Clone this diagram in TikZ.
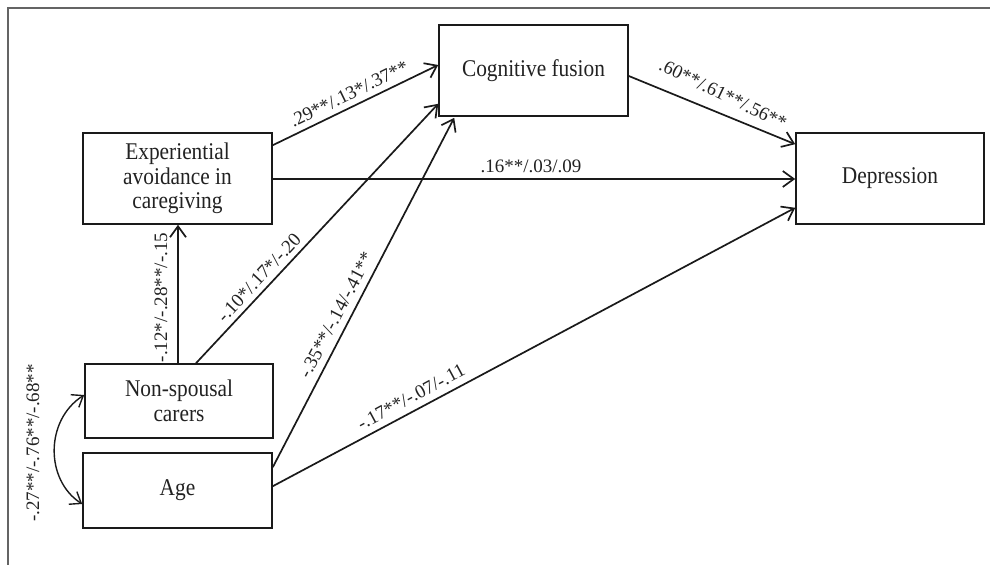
\documentclass[tikz,border=0pt]{standalone}
\usepackage{fontspec}
\setmainfont{Liberation Serif}
\newfontfamily\boxfont{Liberation Serif}[FakeStretch=0.89]
\usetikzlibrary{arrows.meta,calc}
\definecolor{linec}{RGB}{26,26,26}
\definecolor{textc}{RGB}{34,34,34}
\definecolor{framec}{RGB}{100,100,100}
\begin{document}
\begin{tikzpicture}[x=1pt,y=-1pt,
  box/.style={draw=linec, line width=1.6pt, rectangle, inner sep=0pt, align=center, text=textc, font=\boxfont\fontsize{24}{24.5}\selectfont},
  arr/.style={draw=linec, line width=1.7pt, -{Straight Barb[length=11pt,width=16pt,line width=1.7pt]}},
  darr/.style={draw=linec, line width=1.4pt, {Straight Barb[length=10pt,width=15pt,line width=1.4pt]}-{Straight Barb[length=10pt,width=15pt,line width=1.4pt]}},
  lab/.style={text=textc, font=\fontsize{19}{22}\selectfont, inner sep=0pt},
  framel/.style={draw=framec, line width=2pt}]
\useasboundingbox (0,0) rectangle (990,565);
% frame
\coordinate (ftl) at (8,7.5);
\coordinate (ftr) at (990,7.5);
\coordinate (fbl) at (8,565);
\draw[framel] (ftr) -- (ftl) -- (fbl);
% boxes
\node[box, minimum width=189pt, minimum height=91pt] (cog) at (533.5,70.5) {Cognitive fusion};
\node[box, minimum width=188pt, minimum height=91pt] (dep) at (890,178.5) {Depression};
\node[box, minimum width=189pt, minimum height=91pt] (exp) at (177.5,178.5) {Experiential\\avoidance in\\caregiving};
\node[box, minimum width=188pt, minimum height=74pt] (ns) at (179,401) {Non-spousal\\carers};
\node[box, minimum width=189pt, minimum height=75pt] (age) at (177.5,490.5) {Age};
% connectors
\draw[arr] ([yshift=-13pt]exp.north east) -- ([yshift=5.5pt]cog.west);
\draw[arr] ([yshift=-0.5pt]exp.east) -- ([yshift=-0.5pt]dep.west);
\draw[arr] ([yshift=-5.5pt]cog.east) -- ([yshift=-12pt]dep.north west);
\draw[arr] ([xshift=0.5pt]exp.south |- ns.north) -- ([xshift=0.5pt]exp.south);
\draw[arr] ([xshift=17pt]ns.north) -- ([yshift=13pt]cog.south west);
\draw[arr] ([yshift=-15pt]age.north east) -- ([xshift=16pt,yshift=-1pt]cog.south west);
\draw[arr] ([yshift=-34pt]age.north east) -- ([yshift=17pt]dep.south west);
\draw[darr] ([yshift=6pt]ns.west) .. controls (45,420) and (45,480) .. ([yshift=-13.5pt]age.west);
% labels
\node[lab, rotate=26] (l1) at (349,94) {.29**/.13*/.37**};
\node[lab, rotate=-25.7] (l2) at (723,94) {.60**/.61**/.56**};
\node[lab] (l3) at (531,166) {.16**/.03/.09};
\node[lab, rotate=90] (l4) at (161,297.5) {-.12*/-.28**/-.15};
\node[lab, rotate=47] (l5) at (259,277.5) {-.10*/.17*/-.20};
\node[lab, rotate=62.3] (l6) at (336,315) {-.35**/-.14/-.41**};
\node[lab, rotate=28.3] (l7) at (411,397) {-.17**/-.07/-.11};
\node[lab, rotate=90] (l8) at (33,443) {-.27**/-.76**/-.68**};
\end{tikzpicture}
\end{document}
